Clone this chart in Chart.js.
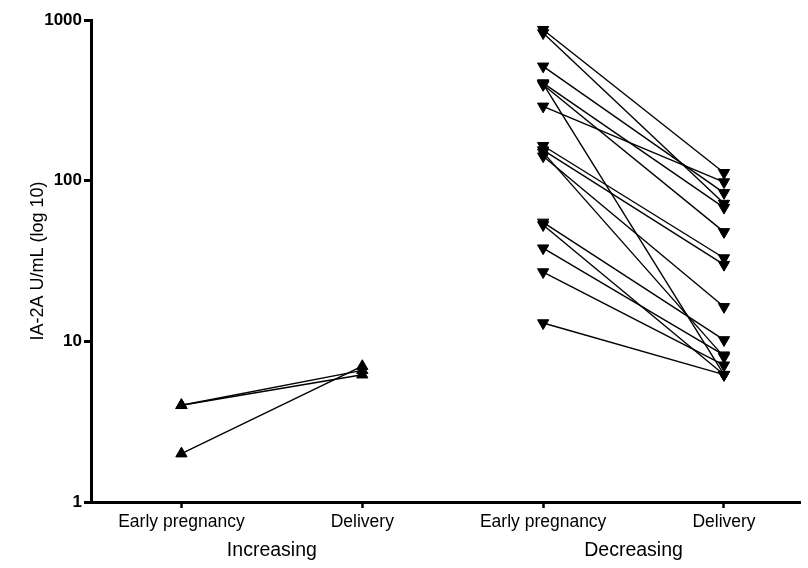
<!DOCTYPE html>
<html>
<head>
<meta charset="utf-8">
<script src="https://cdn.jsdelivr.net/npm/chart.js@4.4.1/dist/chart.umd.min.js"></script>
<style>
  html, body { margin: 0; padding: 0; background: #fff; }
  #wrap { width: 808px; height: 568px; }
</style>
</head>
<body>
<div id="wrap"><canvas id="c" width="808" height="568"></canvas></div>
<script>
// ---- data ----
const tickLabels = ["Early pregnancy", "Delivery", "Early pregnancy", "Delivery"];
const tickPositions = [0.5, 1.5, 2.5, 3.5];
const groupLabels = ["Increasing", "Decreasing"];
const yTicks = [1, 10, 100, 1000];
const yTitle = "IA-2A U/mL (log 10)";

const incEarly    = [4, 4, 2];
const incDelivery = [6.2, 6.6, 7.0];

const decEarly    = [870, 830, 515, 405, 395, 400, 290, 165, 155, 142, 150, 55, 53, 38, 27, 13];
const decDelivery = [112, 72, 84, 68, 48, 6.2, 98, 33, 30, 16.4, 8.0, 10.2, 6.2, 8.2, 7.1, 6.2];

// ---- build datasets ----
const datasets = [];
function addPairs(early, delivery, xa, xb, rot) {
  for (let i = 0; i < early.length; i++) {
    datasets.push({
      data: [{x: xa, y: early[i]}, {x: xb, y: delivery[i]}],
      showLine: true,
      borderColor: '#000',
      backgroundColor: '#000',
      borderWidth: 1.4,
      pointStyle: 'triangle',
      pointRotation: rot,
      pointRadius: 6.5,
      pointBorderWidth: 1,
      pointBackgroundColor: '#000',
      pointBorderColor: '#000',
      pointHoverRadius: 6.5
    });
  }
}
addPairs(incEarly, incDelivery, tickPositions[0], tickPositions[1], 0);
addPairs(decEarly, decDelivery, tickPositions[2], tickPositions[3], 180);

const groupLabelPlugin = {
  id: 'groupLabels',
  afterDraw(chart) {
    const ctx = chart.ctx;
    const xs = chart.scales.x;
    ctx.save();
    ctx.fillStyle = '#000';
    ctx.font = '19.5px "Liberation Sans", Arial, sans-serif';
    ctx.textAlign = 'center';
    ctx.textBaseline = 'middle';
    for (let g = 0; g < groupLabels.length; g++) {
      const mid = (tickPositions[2*g] + tickPositions[2*g+1]) / 2;
      ctx.fillText(groupLabels[g], xs.getPixelForValue(mid), 551);
    }
    ctx.restore();
  }
};

new Chart(document.getElementById('c'), {
  type: 'scatter',
  data: { datasets },
  plugins: [groupLabelPlugin],
  options: {
    responsive: false,
    animation: false,
    events: [],
    layout: { padding: { top: 20, right: 2, left: 0, bottom: 0 } },
    plugins: { legend: { display: false }, tooltip: { enabled: false } },
    scales: {
      x: {
        type: 'linear',
        min: 0,
        max: 3.923,
        afterBuildTicks: s => { s.ticks = tickPositions.map(v => ({value: v})); },
        afterFit: s => { s.height = 66; s.paddingLeft = 0; s.paddingRight = 0; },
        ticks: {
          color: '#000',
          padding: 4,
          font: { family: '"Liberation Sans", Arial, sans-serif', size: 17.5 },
          callback: (v, i) => tickLabels[i]
        },
        grid: { display: true, drawOnChartArea: false, drawTicks: true, tickLength: 6, tickWidth: 2.5, tickColor: '#000' },
        border: { display: true, width: 3, color: '#000' }
      },
      y: {
        type: 'logarithmic',
        min: 1,
        max: 1000,
        afterBuildTicks: s => { s.ticks = yTicks.map(v => ({value: v})); },
        afterFit: s => { s.width = 91; s.paddingTop = 0; s.paddingBottom = 0; },
        ticks: {
          color: '#000',
          padding: 2,
          font: { family: '"Liberation Sans", Arial, sans-serif', size: 17, weight: 'bold' },
          callback: v => String(v)
        },
        grid: { display: true, drawOnChartArea: false, drawTicks: true, tickLength: 7, tickWidth: 3, tickColor: '#000' },
        border: { display: true, width: 3, color: '#000' },
        title: {
          display: true,
          text: yTitle,
          color: '#000',
          font: { family: '"Liberation Sans", Arial, sans-serif', size: 18 },
          padding: { top: 27, bottom: 0 }
        }
      }
    }
  }
});
</script>
</body>
</html>
